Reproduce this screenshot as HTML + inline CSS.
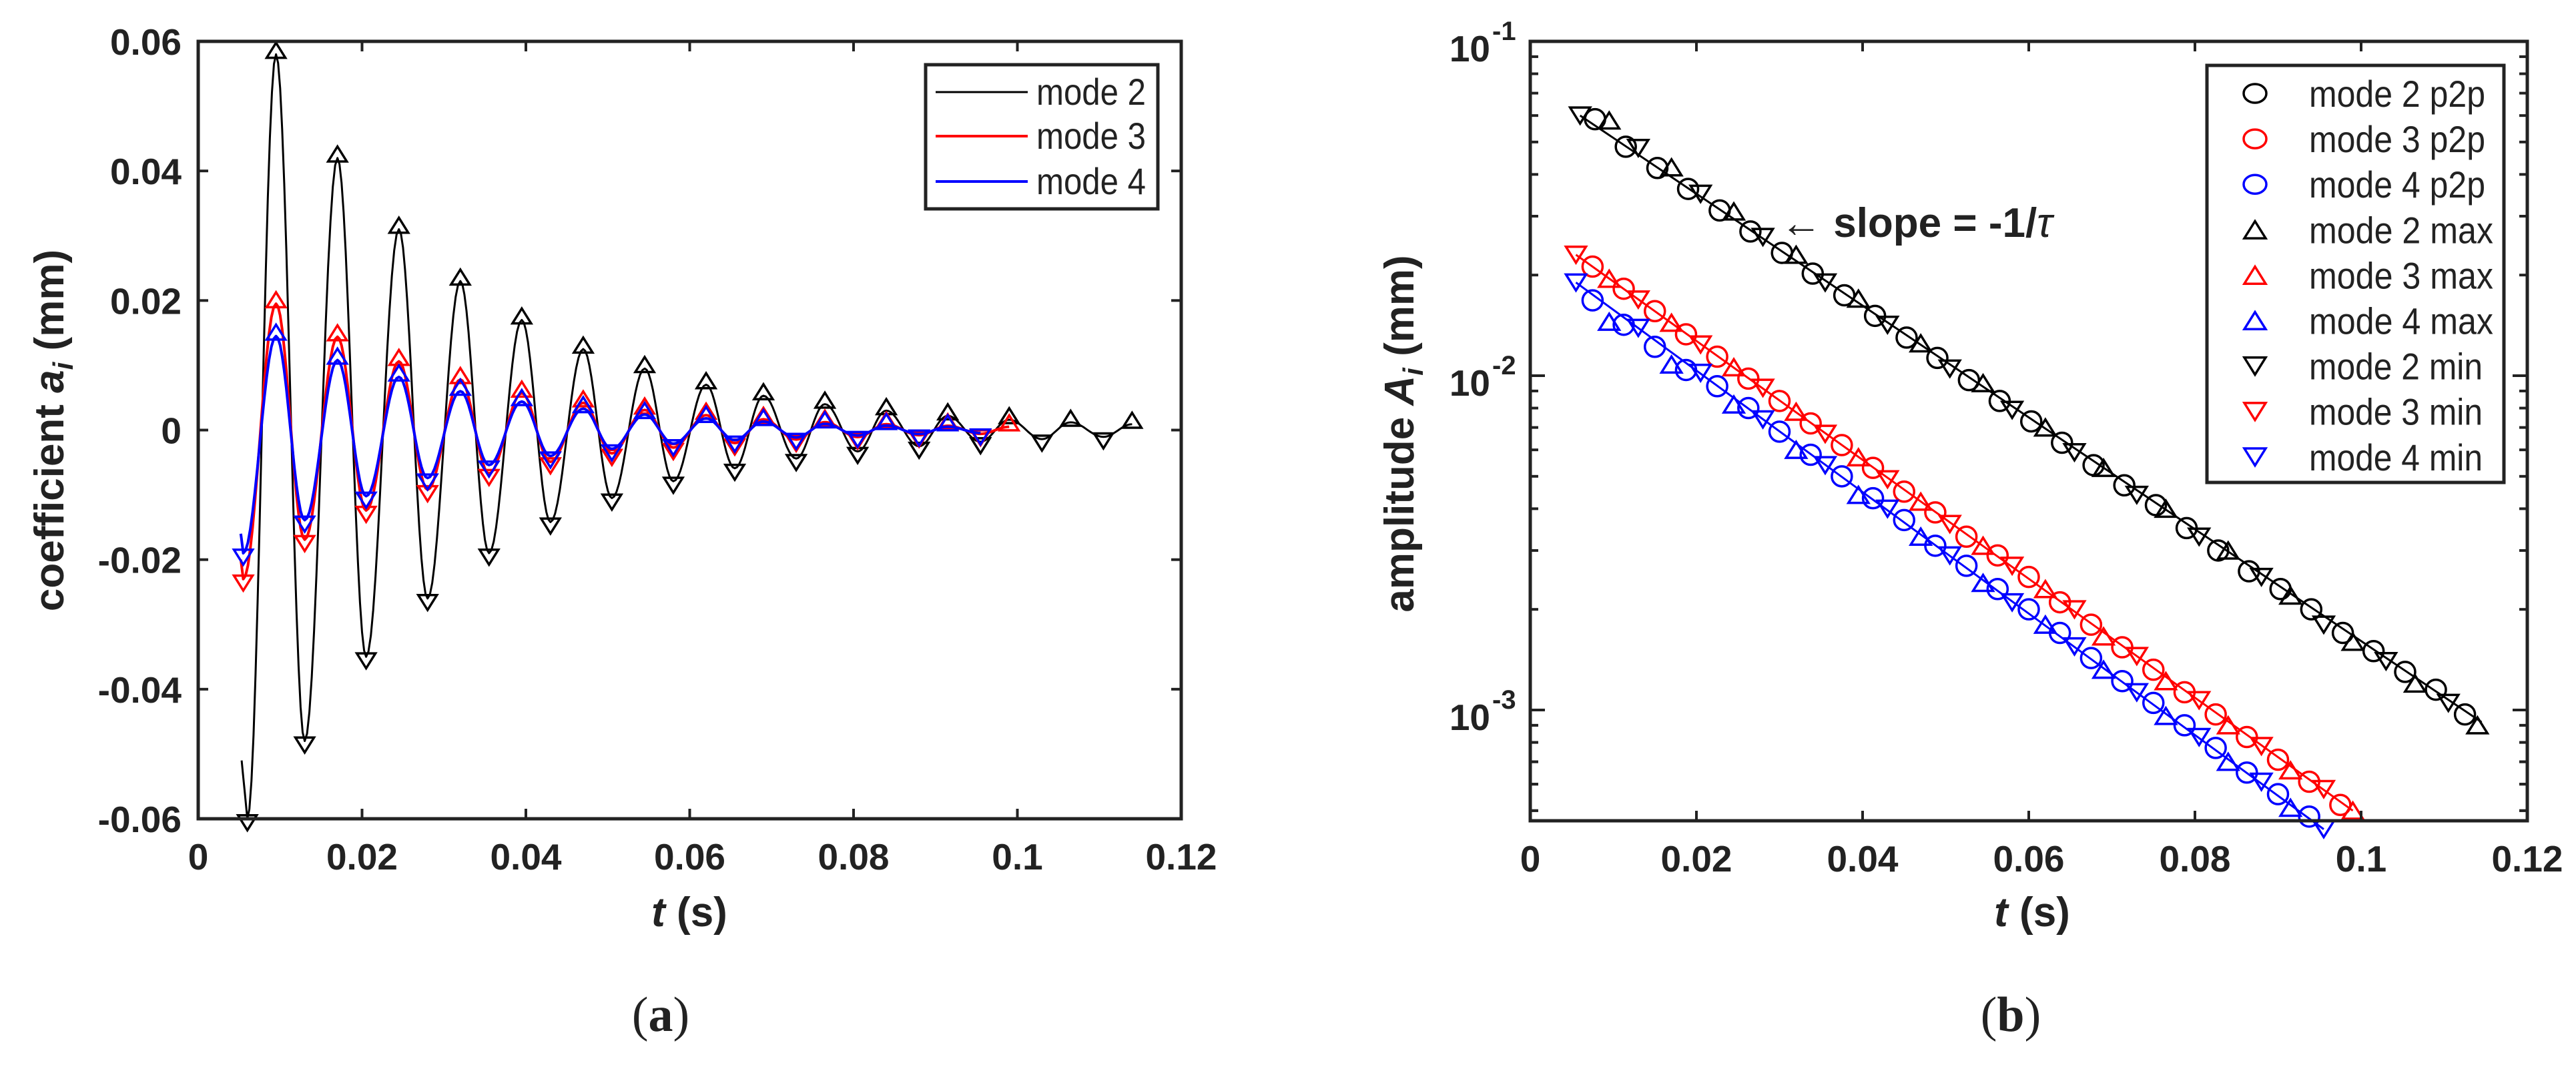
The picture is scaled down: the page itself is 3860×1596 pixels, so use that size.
<!DOCTYPE html>
<html><head><meta charset="utf-8"><style>
html,body{margin:0;padding:0;background:#fff;}
svg{display:block;}
text{font-family:"Liberation Sans",Arial,sans-serif;fill:#222;}
</style></head><body>
<svg id="fig" xmlns="http://www.w3.org/2000/svg" width="3860" height="1596" viewBox="0 0 3860 1596">
<g id="pa"></g>
<g id="pb"></g>
</svg>
<script>
// ---------- Panel (a) data: extrema of modal coefficients ----------
const m2MaxT = [0.0095,0.017,0.0245,0.032,0.0395,0.047,0.0545,0.062,0.069,0.0765,0.084,0.0915,0.099,0.1065,0.114];
const m2MaxV = [0.058,0.042,0.031,0.023,0.017,0.0125,0.0095,0.007,0.0053,0.004,0.003,0.0022,0.0016,0.0012,0.0009];
const m2MinT = [0.006,0.013,0.0205,0.028,0.0355,0.043,0.0505,0.058,0.0655,0.073,0.0805,0.088,0.0955,0.103,0.1105];
const m2MinV = [-0.06,-0.048,-0.035,-0.026,-0.019,-0.0142,-0.0105,-0.0079,-0.0059,-0.0044,-0.0033,-0.0025,-0.0018,-0.0014,-0.00105];
const m3MaxT = [0.0095,0.017,0.0245,0.032,0.0395,0.047,0.0545,0.062,0.069,0.0765,0.084,0.0915,0.099];
const m3MaxV = [0.0195,0.0144,0.0106,0.0078,0.0057,0.0042,0.0031,0.0023,0.00166,0.00122,0.0009,0.00066,0.0005];
const m3MinT = [0.0055,0.013,0.0205,0.028,0.0355,0.043,0.0505,0.058,0.0655,0.073,0.0805,0.088,0.0955];
const m3MinV = [-0.023,-0.0169,-0.0124,-0.0092,-0.0067,-0.0049,-0.0036,-0.0027,-0.002,-0.00145,-0.00107,-0.00078,-0.00058];
const m4MaxT = [0.0095,0.017,0.0245,0.032,0.0395,0.047,0.0545,0.062,0.069,0.0765,0.084,0.0915];
const m4MaxV = [0.0145,0.0108,0.0082,0.006,0.0044,0.0033,0.0024,0.0018,0.00132,0.00096,0.0007,0.00051];
const m4MinT = [0.0055,0.013,0.0205,0.028,0.0355,0.043,0.0505,0.058,0.0655,0.073,0.0805,0.088,0.0955];
const m4MinV = [-0.019,-0.0139,-0.0102,-0.0074,-0.0054,-0.004,-0.0029,-0.0021,-0.00155,-0.00113,-0.00083,-0.00061,-0.00044];
const curveStartT = [0.0053,0.0052,0.0052];
const curveStartV = [-0.051,-0.02,-0.016];
const xTickLabels = ["0","0.02","0.04","0.06","0.08","0.1","0.12"];
const xTickVals = [0,0.02,0.04,0.06,0.08,0.1,0.12];
const yTickLabelsA = ["0.06","0.04","0.02","0","-0.02","-0.04","-0.06"];
const yTickValsA = [0.06,0.04,0.02,0,-0.02,-0.04,-0.06];
// ---------- Panel (b) data: amplitudes ----------
const p2p2T = [0.0078,0.0115,0.0153,0.019,0.0228,0.0265,0.0303,0.034,0.0378,0.0415,0.0453,0.049,0.0528,0.0565,0.0603,0.064,0.0678,0.0715,0.0753,0.079,0.0828,0.0865,0.0903,0.094,0.0978,0.1015,0.1053,0.109,0.1125];
const p2p2V = [0.0585,0.0484,0.0418,0.0362,0.0312,0.027,0.0233,0.0202,0.0174,0.0151,0.013,0.0113,0.0097,0.0084,0.0073,0.0063,0.0054,0.0047,0.0041,0.0035,0.003,0.0026,0.0023,0.002,0.0017,0.0015,0.0013,0.00115,0.00097];
const p2p3T = [0.0075,0.01125,0.015,0.01875,0.0225,0.02625,0.03,0.03375,0.0375,0.04125,0.045,0.04875,0.0525,0.05625,0.06,0.06375,0.0675,0.07125,0.075,0.07875,0.0825,0.08625,0.09,0.09375,0.0975];
const p2p3V = [0.0212,0.0182,0.0156,0.0133,0.0114,0.0098,0.0084,0.0072,0.0062,0.0053,0.0045,0.0039,0.0033,0.0029,0.0025,0.0021,0.0018,0.00154,0.00132,0.00113,0.00097,0.00083,0.00071,0.00061,0.00052];
const p2p4T = [0.0075,0.01125,0.015,0.01875,0.0225,0.02625,0.03,0.03375,0.0375,0.04125,0.045,0.04875,0.0525,0.05625,0.06,0.06375,0.0675,0.07125,0.075,0.07875,0.0825,0.08625,0.09,0.09375];
const p2p4V = [0.0168,0.0142,0.0122,0.0104,0.0093,0.008,0.0068,0.0058,0.005,0.0043,0.0037,0.0031,0.0027,0.0023,0.002,0.0017,0.00143,0.00122,0.00105,0.0009,0.00077,0.00065,0.00056,0.00048];
const fitT0 = [0.006,0.0055,0.0055];
const fitV0 = [0.06,0.023,0.019];
const fitT1 = [0.1145,0.099,0.0955];
const fitV1 = [0.00092,0.0005,0.00044];
const yDecadesB = [-1,-2,-3];

const NS="http://www.w3.org/2000/svg";
function mk(parent,tag,attrs){const e=document.createElementNS(NS,tag);for(const k in attrs)e.setAttribute(k,attrs[k]);parent.appendChild(e);return e;}
const INK="#222";
const colors=["#000","#ff0000","#0000ff"];

// ================= PANEL A =================
const A={x0:297,x1:1770,y0:62,y1:1227,tmin:0,tmax:0.12,vmin:-0.06,vmax:0.06};
const ax=t=>A.x0+(t-A.tmin)/(A.tmax-A.tmin)*(A.x1-A.x0);
const ay=v=>A.y1-(v-A.vmin)/(A.vmax-A.vmin)*(A.y1-A.y0);
const pa=document.getElementById('pa');

function triPath(cx,cy,up,s){const h=s*0.8;return up?`M${cx-s/2},${cy+h/2}L${cx+s/2},${cy+h/2}L${cx},${cy-h/2}Z`:`M${cx-s/2},${cy-h/2}L${cx+s/2},${cy-h/2}L${cx},${cy+h/2}Z`;}

const seriesA=[[m2MaxT,m2MaxV,m2MinT,m2MinV],[m3MaxT,m3MaxV,m3MinT,m3MinV],[m4MaxT,m4MaxV,m4MinT,m4MinV]];
seriesA.forEach((s,i)=>{
  const pts=[];
  s[0].forEach((t,j)=>pts.push([t,s[1][j]]));
  s[2].forEach((t,j)=>pts.push([t,s[3][j]]));
  pts.sort((a,b)=>a[0]-b[0]);
  const all=[[curveStartT[i],curveStartV[i]]].concat(pts);
  let d=`M${ax(all[0][0]).toFixed(1)},${ay(all[0][1]).toFixed(1)}`;
  for(let k=1;k<all.length;k++){
    const [ta,va]=all[k-1],[tb,vb]=all[k];
    const n=k===1?4:14;
    for(let q=1;q<=n;q++){const u=q/n;const w=k===1?u:(1-Math.cos(Math.PI*u))/2;d+=`L${ax(ta+(tb-ta)*u).toFixed(1)},${ay(va+(vb-va)*w).toFixed(1)}`;}
  }
  const g=mk(pa,'g',{});
  
  
  const ln=mk(g,'path',{d:d,fill:'none',stroke:colors[i],'stroke-width':i===0?3:4,'stroke-linejoin':'round'});
  
  
  s[0].forEach((t,j)=>{const m=mk(g,'path',{d:triPath(ax(t),ay(s[1][j])-6,true,28),fill:'none',stroke:colors[i],'stroke-width':3.5});
    
    });
  s[2].forEach((t,j)=>{const m=mk(g,'path',{d:triPath(ax(t),ay(s[3][j])+6,false,28),fill:'none',stroke:colors[i],'stroke-width':3.5});
    
    });
});

function drawFrame(parent,x0,x1,y0,y1){
  const f=mk(parent,'rect',{x:x0,y:y0,width:x1-x0,height:y1-y0,fill:'none',stroke:INK,'stroke-width':5});
  
  
}
drawFrame(pa,A.x0,A.x1,A.y0,A.y1);
xTickVals.forEach((v,i)=>{
  const x=ax(v);
  mk(pa,'line',{x1:x,x2:x,y1:A.y1,y2:A.y1-15,stroke:INK,'stroke-width':4});
  mk(pa,'line',{x1:x,x2:x,y1:A.y0,y2:A.y0+15,stroke:INK,'stroke-width':4});
  const t=mk(pa,'text',{x:x,y:1303,'text-anchor':'middle','font-size':55,'font-weight':'bold'});t.textContent=xTickLabels[i];
  
  
});
yTickValsA.forEach((v,i)=>{
  const y=ay(v);
  mk(pa,'line',{x1:A.x0,x2:A.x0+15,y1:y,y2:y,stroke:INK,'stroke-width':4});
  mk(pa,'line',{x1:A.x1,x2:A.x1-15,y1:y,y2:y,stroke:INK,'stroke-width':4});
  const t=mk(pa,'text',{x:272,y:y+20,'text-anchor':'end','font-size':55,'font-weight':'bold'});t.textContent=yTickLabelsA[i];
  
  
});
</script>
<script>
(function(){
const pa=document.getElementById('pa');
pa.insertAdjacentHTML('beforeend',`
<text x="1033" y="1388" text-anchor="middle" font-size="62" font-weight="bold"><tspan font-style="italic">t</tspan> (s)</text>
<text transform="translate(95,645) rotate(-90)" text-anchor="middle" font-size="62" font-weight="bold">coefficient  <tspan font-style="italic">a</tspan><tspan font-style="italic" font-size="42" dy="14">i</tspan><tspan dy="-14"> (mm)</tspan></text>
<text x="990" y="1545" text-anchor="middle" font-size="74" style="font-family:'Liberation Serif',serif">(<tspan font-weight="bold">a</tspan>)</text>
<g>
<rect x="1387" y="97" width="348" height="216" fill="#fff" stroke="#222" stroke-width="5"/>
<g><line x1="1402" x2="1540" y1="138" y2="138" stroke="#000" stroke-width="3"/><text x="1553" y="157" font-size="56" textLength="164" lengthAdjust="spacingAndGlyphs">mode 2</text></g>
<g><line x1="1402" x2="1540" y1="204" y2="204" stroke="#ff0000" stroke-width="4"/><text x="1553" y="223" font-size="56" textLength="164" lengthAdjust="spacingAndGlyphs">mode 3</text></g>
<g><line x1="1402" x2="1540" y1="272" y2="272" stroke="#0000ff" stroke-width="4"/><text x="1553" y="291" font-size="56" textLength="164" lengthAdjust="spacingAndGlyphs">mode 4</text></g>
</g>`);
})();
</script>
<script>
// ================= PANEL B =================
const B={x0:2293,x1:3787,y0:62,y1:1230,tmin:0,tmax:0.12,lmax:-1,decade:501};
const bx=t=>B.x0+(t-B.tmin)/(B.tmax-B.tmin)*(B.x1-B.x0);
const by=v=>B.y0+(B.lmax-Math.log10(v))*B.decade;
const pb=document.getElementById('pb');

[0,1,2].forEach(i=>{
  const l=mk(pb,'line',{x1:bx(fitT0[i]),y1:by(fitV0[i]),x2:bx(fitT1[i]),y2:by(fitV1[i]),stroke:colors[i],'stroke-width':3});
  
  
});
const p2pT=[p2p2T,p2p3T,p2p4T], p2pV=[p2p2V,p2p3V,p2p4V];
const maxT=[m2MaxT,m3MaxT,m4MaxT], maxV=[m2MaxV,m3MaxV,m4MaxV];
const minT=[m2MinT,m3MinT,m4MinT], minV=[m2MinV,m3MinV,m4MinV];
[0,1,2].forEach(i=>{
  const g=mk(pb,'g',{});
  
  
  p2pT[i].forEach((t,j)=>{const c=mk(g,'circle',{cx:bx(t),cy:by(p2pV[i][j]),r:15,fill:'none',stroke:colors[i],'stroke-width':3.5});
    
    });
  maxT[i].forEach((t,j)=>{const m=mk(g,'path',{d:triPath(bx(t),by(Math.abs(maxV[i][j])),true,30),fill:'none',stroke:colors[i],'stroke-width':3.5});
    
    });
  minT[i].forEach((t,j)=>{const m=mk(g,'path',{d:triPath(bx(t),by(Math.abs(minV[i][j])),false,30),fill:'none',stroke:colors[i],'stroke-width':3.5});
    
    });
});
drawFrame(pb,B.x0,B.x1,B.y0,B.y1);
xTickVals.forEach((v,i)=>{
  const x=bx(v);
  mk(pb,'line',{x1:x,x2:x,y1:B.y1,y2:B.y1-15,stroke:INK,'stroke-width':4});
  mk(pb,'line',{x1:x,x2:x,y1:B.y0,y2:B.y0+15,stroke:INK,'stroke-width':4});
  const t=mk(pb,'text',{x:x,y:1306,'text-anchor':'middle','font-size':55,'font-weight':'bold'});t.textContent=xTickLabels[i];
  
  
});
yDecadesB.forEach(e=>{
  const y=by(Math.pow(10,e));
  mk(pb,'line',{x1:B.x0,x2:B.x0+22,y1:y,y2:y,stroke:INK,'stroke-width':4});
  mk(pb,'line',{x1:B.x1,x2:B.x1-22,y1:y,y2:y,stroke:INK,'stroke-width':4});
  for(let m=2;m<=9;m++){const v=m*Math.pow(10,e-1);const yy=by(v);if(yy>B.y1-2||yy<B.y0+2)continue;
    mk(pb,'line',{x1:B.x0,x2:B.x0+12,y1:yy,y2:yy,stroke:INK,'stroke-width':4});
    mk(pb,'line',{x1:B.x1,x2:B.x1-12,y1:yy,y2:yy,stroke:INK,'stroke-width':4});}
  const t=mk(pb,'text',{x:2233,y:y+30,'text-anchor':'end','font-size':55,'font-weight':'bold'});
  t.textContent='10';
  
  
  const s=mk(pb,'text',{x:2236,y:y-2,'text-anchor':'start','font-size':40,'font-weight':'bold'});
  s.textContent=String(e);
  
  
});
for(let m=5;m<=9;m++){const yy=by(m*1e-4);if(yy>B.y1-2)continue;
  mk(pb,'line',{x1:B.x0,x2:B.x0+12,y1:yy,y2:yy,stroke:INK,'stroke-width':4});
  mk(pb,'line',{x1:B.x1,x2:B.x1-12,y1:yy,y2:yy,stroke:INK,'stroke-width':4});}

pb.insertAdjacentHTML('beforeend',`
<text x="3045" y="1388" text-anchor="middle" font-size="62" font-weight="bold"><tspan font-style="italic">t</tspan> (s)</text>
<text transform="translate(2118,650) rotate(-90)" text-anchor="middle" font-size="62" font-weight="bold">amplitude  <tspan font-style="italic">A</tspan><tspan font-style="italic" font-size="42" dy="14">i</tspan><tspan dy="-14"> (mm)</tspan></text>
<text x="2668" y="355" font-size="62" font-weight="bold"><tspan font-weight="normal">←</tspan> slope = -1/<tspan font-style="italic" font-weight="normal">τ</tspan></text>
<text x="3013" y="1545" text-anchor="middle" font-size="74" style="font-family:'Liberation Serif',serif">(<tspan font-weight="bold">b</tspan>)</text>
`);
const legLabels=["mode 2 p2p","mode 3 p2p","mode 4 p2p","mode 2 max","mode 3 max","mode 4 max","mode 2 min","mode 3 min","mode 4 min"];
const legWidths=[264,264,264,276,276,276,260,260,260];
const lg=mk(pb,'g',{});


const lb=mk(lg,'rect',{x:3307,y:98,width:445,height:625,fill:'#fff',stroke:INK,'stroke-width':5});


legLabels.forEach((lab,k)=>{
  const y=140+k*68.1, c=colors[k%3], kind=Math.floor(k/3);
  const g=mk(lg,'g',{});
  
  
  if(kind===0) mk(g,'ellipse',{cx:3379,cy:y,rx:17,ry:14,fill:'none',stroke:c,'stroke-width':3.5});
  else mk(g,'path',{d:triPath(3379,y,kind===1,32),fill:'none',stroke:c,'stroke-width':3.5});
  const t=mk(g,'text',{x:3460,y:y+20,'font-size':56,textLength:legWidths[k],lengthAdjust:'spacingAndGlyphs'});t.textContent=lab;
});
</script>
</body></html>
